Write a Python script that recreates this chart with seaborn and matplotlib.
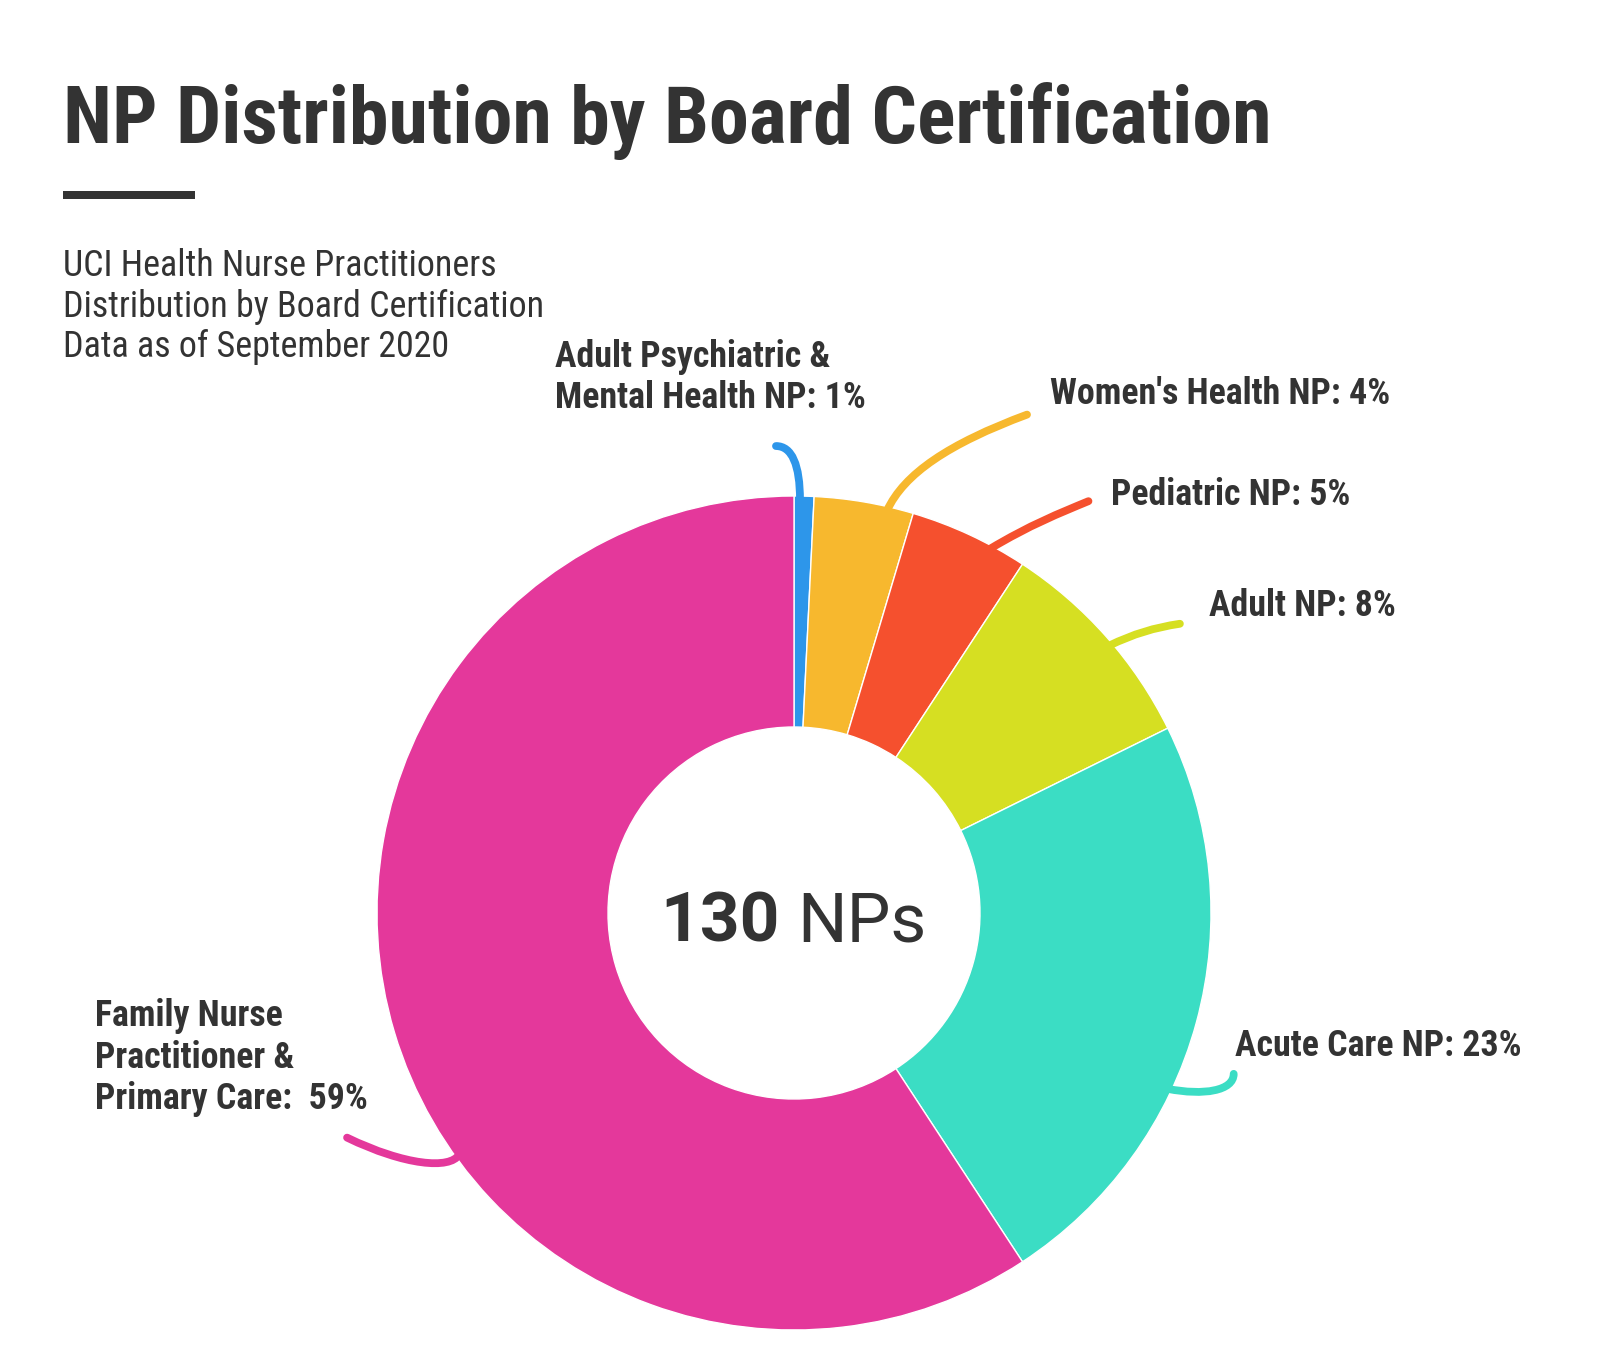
import numpy as np
import pandas as pd
import seaborn as sns
import matplotlib
matplotlib.use("Agg")
import matplotlib.pyplot as plt
from matplotlib.path import Path
from matplotlib.patches import PathPatch
from matplotlib import font_manager

# ---------------- data ----------------
categories = ["Adult Psychiatric & Mental Health NP", "Women's Health NP", "Pediatric NP",
              "Adult NP", "Acute Care NP", "Family Nurse Practitioner & Primary Care"]
counts = [1, 5, 6, 11, 30, 77]
label_names = ["Adult Psychiatric &\nMental Health NP:", "Women's Health NP:",
               "Pediatric NP:", "Adult NP:", "Acute Care NP:",
               "Family Nurse\nPractitioner &\nPrimary Care: "]
title = "NP Distribution by Board Certification"
subtitle = ["UCI Health Nurse Practitioners", "Distribution by Board Certification",
            "Data as of September 2020"]

# ---------------- style ----------------
colors = ["#2D96EA", "#F7B82E", "#F5502E", "#D6DF22", "#3BDDC4", "#E4389B"]
TXT = "#333333"
sns.set_theme(style="white")
avail = {f.name for f in font_manager.fontManager.ttflist}
cond = [f for f in ["Roboto Condensed", "Liberation Sans Narrow"] if f in avail]
COND = cond + ["Roboto", "DejaVu Sans"]
plt.rcParams["font.family"] = COND

W, H = 1601, 1353
fig = plt.figure(figsize=(W / 100, H / 100), dpi=100, facecolor="white")
ax = fig.add_axes([0, 0, 1, 1])

def Y(y):  # image y (down) -> axes y (up)
    return H - y

df = pd.DataFrame({"category": categories, "count": counts})
total_nps = int(df["count"].sum())
df["pct"] = 100 * df["count"] / total_nps

cx, cy, R, r_in = 794, 913, 417, 186
wedges, _ = ax.pie(df["count"], colors=colors, startangle=90, counterclock=False,
                   radius=R, center=(cx, Y(cy)),
                   wedgeprops=dict(width=R - r_in, edgecolor="white", linewidth=1.0))
ax.set_xlim(0, W)
ax.set_ylim(0, H)
ax.set_aspect("equal")
ax.set_axis_off()

# ---------------- leader lines ----------------
anchor_frac = [0.30, 0.74, 0.70, 0.54, 0.62, 0.41]   # fraction along slice, clockwise
curves = [
    [(0, -35), (-8, -54), (-24, -54)],
    [(17, -37), (62, -67), (140, -96)],
    [(40, -24), (70, -36), (99, -48)],
    [(25, -12), (45, -18), (71, -22)],
    [(36, 7), (66, 2), (66, -15)],
    [(-9, 15), (-54, 11), (-112, -17)],
]
for w, f, offs, c in zip(wedges, anchor_frac, curves, colors):
    th = np.deg2rad(w.theta2 - f * (w.theta2 - w.theta1))
    a_x = cx + (R - 4) * np.cos(th)
    a_y = Y(cy) + (R - 4) * np.sin(th)
    verts = [(a_x, a_y)] + [(a_x + dx, a_y - dy) for dx, dy in offs]
    codes = [Path.MOVETO, Path.CURVE4, Path.CURVE4, Path.CURVE4]
    ax.add_patch(PathPatch(Path(verts, codes), facecolor="none", edgecolor=c,
                           lw=5.6, capstyle="round", joinstyle="round", zorder=3))

# ---------------- labels ----------------
label_pos = [(555, 367), (1050, 404), (1111, 505), (1209, 616), (1235, 1056), (95, 1026)]
line_gap = 41.5
for name, p, (lx, ly) in zip(label_names, df["pct"], label_pos):
    txt = f"{name} {p:.0f}%"
    for i, line in enumerate(txt.split("\n")):
        ax.text(lx, Y(ly + i * line_gap), line, family=COND, weight="bold",
                fontsize=25.8, color=TXT, ha="left", va="baseline")

# ---------------- title / subtitle ----------------
ax.text(63, Y(143), title, family=COND, weight="bold", fontsize=57.6, color=TXT,
        ha="left", va="baseline")
ax.add_patch(plt.Rectangle((63, Y(199)), 132, 8, color=TXT, lw=0))
for i, s in enumerate(subtitle):
    ax.text(63, Y(276 + i * 40.7), s, family=COND, weight="normal", fontsize=25.9,
            color=TXT, ha="left", va="baseline")

# ---------------- center ----------------
ax.text(780, Y(942), f"{total_nps}", family=["Roboto", "DejaVu Sans"], weight="bold",
        fontsize=50, color=TXT, ha="right", va="baseline")
ax.text(797, Y(942), "NPs", family=["Roboto", "DejaVu Sans"], weight="normal",
        fontsize=50, color=TXT, ha="left", va="baseline")

fig.savefig("out.png", dpi=100, facecolor="white")
